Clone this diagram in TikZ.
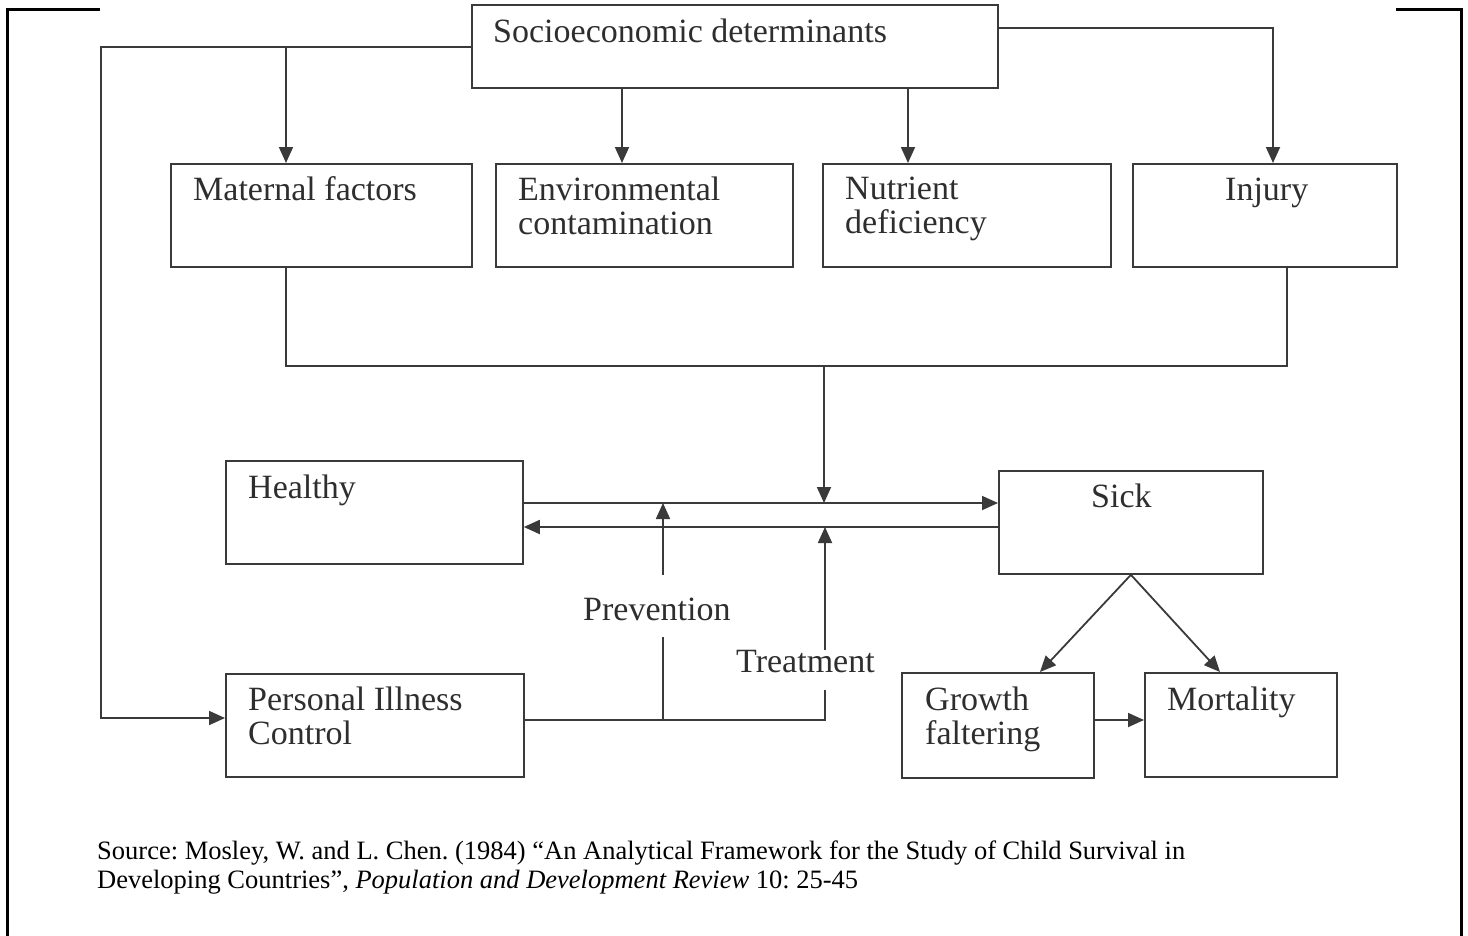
\documentclass[tikz,border=0pt]{standalone}
\usepackage{fontspec}
\setmainfont{Liberation Serif}
\usetikzlibrary{arrows.meta}
\definecolor{lc}{HTML}{3A3A3A}
\definecolor{tc}{HTML}{2E2E2E}
\frenchspacing
\begin{document}
\begin{tikzpicture}[x=1pt,y=-1pt,
  ln/.style={draw=lc, line width=1.8pt},
  box/.style={draw=lc, line width=1.8pt, inner sep=0pt, anchor=north west},
  arr/.style={ln, -{Triangle[length=16pt,width=14pt]}},
  lbl/.style={text=tc, font=\fontsize{34}{34}\selectfont, inner sep=0pt, anchor=base west},
  lbl2/.style={text=tc, font=\fontsize{34}{34}\selectfont, inner sep=0pt, anchor=north west, align=left},
  src/.style={text=black, font=\fontsize{26.5}{26.5}\selectfont\frenchspacing, inner sep=0pt, anchor=base west},
  frame/.style={draw=black, line width=3pt}]
\useasboundingbox (0,0) rectangle (1468,935);
% frame
\draw[frame] (100,9) -- (7,9) -- (7,940);
\draw[frame] (1396,9) -- (1461,9) -- (1461,940);
% boxes
\node[box, minimum width=526, minimum height=83] (soc) at (471,4) {};
\node[box, minimum width=301, minimum height=103] (mat) at (170,163) {};
\node[box, minimum width=297, minimum height=103] (env) at (495,163) {};
\node[box, minimum width=288, minimum height=103] (nut) at (822,163) {};
\node[box, minimum width=264, minimum height=103] (inj) at (1132,163) {};
\node[box, minimum width=297, minimum height=103] (hea) at (225,460) {};
\node[box, minimum width=264, minimum height=103] (sick) at (998,470) {};
\node[box, minimum width=298, minimum height=103] (pic) at (225,673) {};
\node[box, minimum width=192, minimum height=105] (gro) at (901,672) {};
\node[box, minimum width=192, minimum height=104] (mor) at (1144,672) {};
% texts
\node[lbl] (tsoc) at (493,42) {Socioeconomic determinants};
\node[lbl] (tmat) at (193,200) {Maternal factors};
\node[lbl2] (tenv) at (518,177) {Environmental\\contamination};
\node[lbl2] (tnut) at (845,177) {Nutrient\\deficiency};
\node[lbl] (tinj) at (1225,200) {Injury};
\node[lbl] (thea) at (248,498) {Healthy};
\node[lbl] (tsick) at (1091,507) {Sick};
\node[lbl] (tprev) at (583,620) {Prevention};
\node[lbl] (ttreat) at (736,672) {Treatment};
\node[lbl2] (tpic) at (248,687) {Personal Illness\\Control};
\node[lbl2] (tgro) at (925,687) {Growth\\faltering};
\node[lbl] (tmor) at (1167,710) {Mortality};
\node[src] (srcA) at (97,859) {Source: Mosley, W. and L. Chen. (1984) “An Analytical Framework for the Study of Child Survival in};
\node[src] (srcB) at (97,888) {Developing Countries”, \textit{Population and Development Review} 10: 25-45};
% coordinates
\coordinate (l1) at (101,47);
\coordinate (l2) at (101,718);
\coordinate (m1) at (286,47);
\coordinate (e1) at (622,87);
\coordinate (n1) at (908,87);
\coordinate (i0) at (997,28);
\coordinate (i1) at (1273,28);
\coordinate (c1) at (286,366);
\coordinate (c2) at (1287,366);
\coordinate (c3) at (824,366);
\coordinate (u) at (824,503);
\coordinate (d) at (824,527);
\coordinate (p0) at (663,575);
\coordinate (p1) at (663,637);
\coordinate (b1) at (663,720);
\coordinate (t0) at (825,650);
\coordinate (t1) at (825,690);
\coordinate (b2) at (825,720);
\coordinate (gt) at (1040,672);
\coordinate (mt) at (1220,672);
\coordinate (g) at (1100,720);
% connectors
\draw[arr] (soc.west |- l1) -- (l1) -- (l2) -- (pic.west |- l2);
\draw[arr] (m1) -- (m1 |- mat.north);
\draw[arr] (e1) -- (e1 |- env.north);
\draw[arr] (n1) -- (n1 |- nut.north);
\draw[arr] (i0) -- (i1) -- (i1 |- inj.north);
\draw[ln] (c1 |- mat.south) -- (c1) -- (c2) -- (c2 |- inj.south);
\draw[arr] (c3) -- (u);
\draw[arr] (hea.east |- u) -- (sick.west |- u);
\draw[arr] (sick.west |- d) -- (hea.east |- d);
\draw[arr] (p0) -- (p0 |- u);
\draw[arr] (t0) -- (t0 |- d);
\draw[ln] (pic.east |- b1) -- (b1) -- (b2) -- (t1);
\draw[ln] (b1) -- (p1);
\draw[arr] (sick.south) -- (gt);
\draw[arr] (sick.south) -- (mt);
\draw[arr] (gro.east |- g) -- (mor.west |- g);
\end{tikzpicture}
\end{document}
